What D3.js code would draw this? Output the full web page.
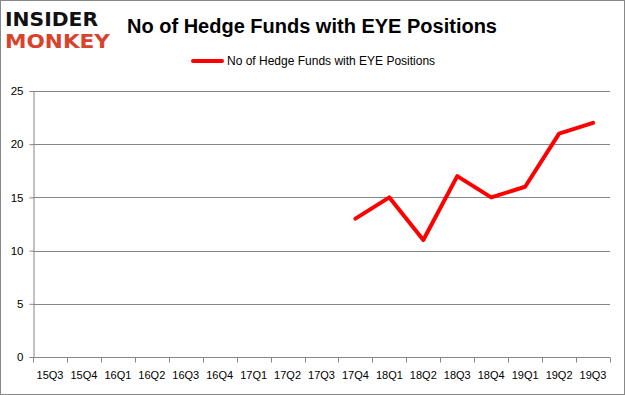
<!DOCTYPE html>
<html>
<head>
<meta charset="utf-8">
<script src="https://cdn.jsdelivr.net/npm/d3@7"></script>
<style>
  body { margin: 0; background: #fff; }
  svg { display: block; }
</style>
</head>
<body>
<div id="chart"></div>
<script>
const quarters = ["15Q3", "15Q4", "16Q1", "16Q2", "16Q3", "16Q4", "17Q1", "17Q2", "17Q3",
                  "17Q4", "18Q1", "18Q2", "18Q3", "18Q4", "19Q1", "19Q2", "19Q3"];
// funds holding EYE; nothing before 17Q4
const fundCounts = [null, null, null, null, null, null, null, null, null,
                    13, 15, 11, 17, 15, 16, 21, 22];
const yTicks = [0, 5, 10, 15, 20, 25];
const seriesName = "No of Hedge Funds with EYE Positions";

const width = 625, height = 395;
const plot = { left: 33, right: 610, top: 91, bottom: 357 };

const svg = d3.select("#chart").append("svg")
    .attr("width", width)
    .attr("height", height);

// outer frame
svg.append("rect")
    .attr("x", 0.5).attr("y", 0.5)
    .attr("width", width - 1).attr("height", height - 1)
    .attr("fill", "#fff")
    .attr("stroke", "#888");

const x = d3.scaleBand()
    .domain(quarters)
    .range([plot.left, plot.right]);

const y = d3.scaleLinear()
    .domain([0, 25])
    .range([plot.bottom, plot.top]);

// gridlines
svg.append("g")
    .selectAll("line")
    .data(yTicks)
    .join("line")
    .attr("x1", plot.left)
    .attr("x2", plot.right)
    .attr("y1", d => Math.round(y(d)) + 0.5)
    .attr("y2", d => Math.round(y(d)) + 0.5)
    .attr("stroke", "#868686");

// y axis
const yAxis = svg.append("g")
    .attr("transform", `translate(${plot.left + 0.5},0)`)
    .call(d3.axisLeft(y).tickValues(yTicks).tickSize(4).tickPadding(6));
yAxis.select(".domain").attr("stroke", "#868686");
yAxis.selectAll(".tick line").attr("stroke", "#868686");
yAxis.selectAll(".tick text")
    .attr("font-family", "'Liberation Sans', Arial, sans-serif")
    .attr("font-size", 11.5)
    .attr("fill", "#000");

// x axis, ticks on band edges
const xAxis = svg.append("g")
    .attr("transform", `translate(0,${Math.round(y(0)) + 0.5})`)
    .call(d3.axisBottom(x).tickSize(0).tickPadding(14));
xAxis.select(".domain").remove();
xAxis.append("line")
    .attr("x1", plot.left).attr("x2", plot.right)
    .attr("stroke", "#868686");
xAxis.selectAll(".edge")
    .data(quarters.concat(["end"]))
    .join("line")
    .attr("class", "edge")
    .attr("x1", (d, i) => Math.round(plot.left + i * x.step()) + 0.5)
    .attr("x2", (d, i) => Math.round(plot.left + i * x.step()) + 0.5)
    .attr("y1", 0).attr("y2", 5)
    .attr("stroke", "#868686");
xAxis.selectAll(".tick text")
    .attr("font-family", "'Liberation Sans', Arial, sans-serif")
    .attr("font-size", 11)
    .attr("fill", "#000");

// series line
const line = d3.line()
    .defined(d => d != null)
    .x((d, i) => x(quarters[i]) + x.bandwidth() / 2)
    .y(d => y(d));

svg.append("path")
    .datum(fundCounts)
    .attr("d", line)
    .attr("fill", "none")
    .attr("stroke", "#ff0000")
    .attr("stroke-width", 4)
    .attr("stroke-linejoin", "round")
    .attr("stroke-linecap", "round");

// title
svg.append("text")
    .attr("x", 312)
    .attr("y", 33)
    .attr("text-anchor", "middle")
    .attr("font-family", "'Liberation Sans', Arial, sans-serif")
    .attr("font-weight", "bold")
    .attr("font-size", 20)
    .attr("fill", "#000")
    .text(seriesName);

// legend
const legend = svg.append("g").attr("transform", "translate(193,61)");
legend.append("line")
    .attr("x1", 0).attr("x2", 29)
    .attr("stroke", "#ff0000")
    .attr("stroke-width", 4)
    .attr("stroke-linecap", "round");
legend.append("text")
    .attr("x", 34)
    .attr("y", 4)
    .attr("font-family", "'Liberation Sans', Arial, sans-serif")
    .attr("font-size", 12)
    .attr("fill", "#000")
    .text(seriesName);

// logo
const logo = svg.append("g")
    .attr("font-family", "'DejaVu Sans', sans-serif")
    .attr("font-weight", "bold");
logo.append("text")
    .attr("x", 5).attr("y", 26)
    .attr("font-size", 19)
    .attr("textLength", 93)
    .attr("lengthAdjust", "spacingAndGlyphs")
    .attr("fill", "#111")
    .text("INSIDER");
logo.append("text")
    .attr("x", 5).attr("y", 48)
    .attr("font-size", 19)
    .attr("textLength", 105)
    .attr("lengthAdjust", "spacingAndGlyphs")
    .attr("fill", "#d9432d")
    .text("MONKEY");
</script>
</body>
</html>
